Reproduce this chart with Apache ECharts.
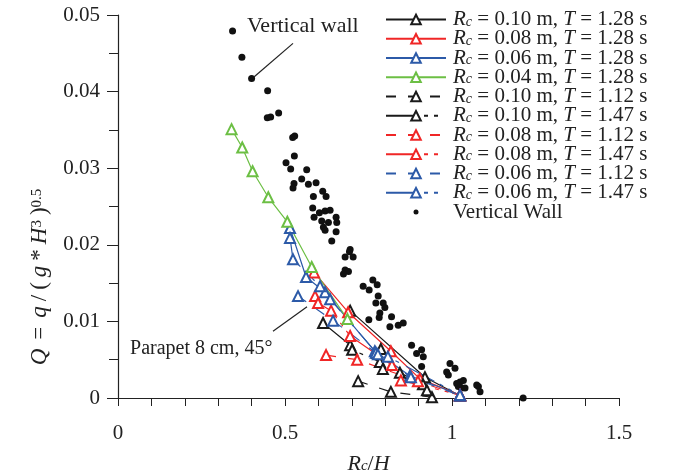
<!DOCTYPE html>
<html><head><meta charset="utf-8">
<script src="https://cdn.jsdelivr.net/npm/echarts@6/dist/echarts.min.js"></script>
<style>html,body{margin:0;padding:0;background:#fff}#c{width:674px;height:472px}</style>
</head><body><div id="c"></div>
<script>
// ---- tick labels ----
const xTickLabels = [0, 0.5, 1, 1.5];
const yTickLabels = [0, 0.01, 0.02, 0.03, 0.04, 0.05];

// ---- series data [Rc/H, Q] ----
const rc010_T128 = [[0.695,0.0114],[0.919,0.0027],[1.024,0.0003]];
const rc008_T128 = [[0.587,0.0164],[0.689,0.0112],[0.817,0.0061],[0.904,0.0025],[1.024,0.0004]];
const rc006_T128 = [[0.515,0.0222],[0.563,0.0158],[0.620,0.0138],[0.769,0.0061],[0.874,0.0029],[1.024,0.0004]];
const rc004_T128 = [[0.340,0.0351],[0.372,0.0327],[0.403,0.0296],[0.450,0.0262],[0.507,0.0230],[0.580,0.0171],[0.687,0.0103]];
const rc010_T112 = [[0.719,0.0022],[0.817,0.0008],[0.940,0.0001]];
const rc010_T147 = [[0.614,0.0098],[0.695,0.0069],[0.701,0.0063],[0.784,0.0047],[0.787,0.0064],[0.793,0.0038],[0.844,0.0033],[0.913,0.0018],[0.925,0.0010]];
const rc008_T112 = [[0.623,0.0056],[0.716,0.0050],[0.898,0.0022],[1.024,0.0003]];
const rc008_T147 = [[0.590,0.0133],[0.599,0.0124],[0.638,0.0114],[0.695,0.0081],[0.820,0.0043],[0.847,0.0023],[1.024,0.0004]];
const rc006_T112 = [[0.539,0.0133],[0.644,0.0101],[0.772,0.0059],[0.877,0.0027],[1.024,0.0003]];
const rc006_T147 = [[0.515,0.0209],[0.524,0.0181],[0.605,0.0146],[0.635,0.0129],[0.778,0.0057],[0.808,0.0054],[1.024,0.0004]];
const verticalWall = [
 [0.343,0.0479],[0.371,0.0445],[0.400,0.0417],[0.448,0.0401],[0.447,0.0366],[0.457,0.0367],[0.481,0.0372],
 [0.523,0.0340],[0.529,0.0342],[0.528,0.0316],[0.503,0.0307],[0.517,0.0299],[0.565,0.0298],[0.550,0.0286],
 [0.527,0.0280],[0.524,0.0274],[0.570,0.0279],[0.593,0.0281],[0.613,0.0270],[0.585,0.0263],[0.623,0.0263],
 [0.583,0.0248],[0.603,0.0242],[0.620,0.0244],[0.635,0.0245],[0.587,0.0236],[0.610,0.0231],[0.630,0.0229],
 [0.653,0.0236],[0.655,0.0229],[0.615,0.0223],[0.620,0.0219],[0.653,0.0217],[0.640,0.0205],[0.695,0.0194],
 [0.693,0.0191],[0.680,0.0184],[0.704,0.0184],[0.680,0.0167],[0.690,0.0165],[0.675,0.0162],[0.763,0.0154],
 [0.734,0.0146],[0.752,0.0141],[0.776,0.0148],[0.779,0.0133],[0.772,0.0124],[0.794,0.0124],[0.799,0.0118],
 [0.784,0.0111],[0.782,0.0105],[0.819,0.0106],[0.751,0.0102],[0.814,0.0093],[0.839,0.0095],[0.854,0.0098],
 [0.879,0.0069],[0.909,0.0063],[0.914,0.0054],[0.894,0.0058],[0.909,0.0041],[0.994,0.0045],[1.009,0.0039],
 [0.984,0.0034],[0.989,0.0030],[1.024,0.0021],[1.034,0.0023],[1.019,0.0015],[1.029,0.0013],[1.039,0.0013],
 [1.079,0.0015],[1.084,0.0008],[1.014,0.0019],[1.074,0.0017],[1.213,0.0000]
];
const seriesNames = [
 'Rc = 0.10 m, T = 1.28 s','Rc = 0.08 m, T = 1.28 s','Rc = 0.06 m, T = 1.28 s','Rc = 0.04 m, T = 1.28 s',
 'Rc = 0.10 m, T = 1.12 s','Rc = 0.10 m, T = 1.47 s','Rc = 0.08 m, T = 1.12 s','Rc = 0.08 m, T = 1.47 s',
 'Rc = 0.06 m, T = 1.12 s','Rc = 0.06 m, T = 1.47 s','Vertical Wall'
];

const BLACK='#1a1a1a', RED='#f02626', BLUE='#2c5aa8', GREEN='#6cbf44';
const SOLID='solid', DASH=[10,12], LDASH=[32,6,4,6,4,8];
const lineDefs = [
 [rc010_T128, BLACK, SOLID],[rc008_T128, RED, SOLID],[rc006_T128, BLUE, SOLID],[rc004_T128, GREEN, SOLID],
 [rc010_T112, BLACK, DASH],[rc010_T147, BLACK, LDASH],[rc008_T112, RED, DASH],[rc008_T147, RED, LDASH],
 [rc006_T112, BLUE, DASH],[rc006_T147, BLUE, LDASH]
];

const FONT = 'Liberation Serif, Times New Roman, serif';
const rich = {
  i: {fontStyle:'italic', fontFamily:FONT, fontSize:21, lineHeight:19, color:'#222'},
  s: {fontStyle:'italic', fontFamily:FONT, fontSize:14, lineHeight:5, verticalAlign:'bottom', color:'#222'},
  n: {fontFamily:FONT, fontSize:21, lineHeight:19, color:'#222'}
};
const richT = {
  i: {fontStyle:'italic', fontFamily:FONT, fontSize:22, lineHeight:20, color:'#222'},
  s: {fontStyle:'italic', fontFamily:FONT, fontSize:15, lineHeight:5, verticalAlign:'bottom', color:'#222'},
  n: {fontFamily:FONT, fontSize:22, lineHeight:20, color:'#222'}
};

const series = lineDefs.map((d, k) => ({
  name: seriesNames[k], type:'line', data:d[0], symbol:'emptyTriangle', symbolSize:10,
  itemStyle:{color:d[1], borderColor:d[1], borderWidth:1.6},
  lineStyle:{color:d[1], width:1.2, type:d[2]}, z: 3
}));
series.push({
  name: seriesNames[10], type:'scatter', data: verticalWall, symbol:'circle', symbolSize:7,
  itemStyle:{color:'#111', opacity:1}, z: 2
});

const chart = echarts.init(document.getElementById('c'), null, {renderer:'canvas'});
chart.setOption({
  animation:false,
  backgroundColor:'#fff',
  grid:{left:118, right:55, top:15, bottom:74, containLabel:false, outerBoundsMode:'none'},
  legend:{
    orient:'vertical', left:380, top:4, itemWidth:60, itemHeight:12, itemGap:-1.75,
    data: seriesNames.map((n,k)=> k===10 ? {name:n, icon:'path://M0 0M60 12M27.5 6a2.5 2.5 0 1 0 5 0a2.5 2.5 0 1 0 -5 0Z'} : {name:n}),
    formatter: n => n === 'Vertical Wall' ? '{n|Vertical Wall}' :
      n.replace(/Rc = (.*), T = (.*)/, '{i|R}{s|c}{n| = $1, }{i|T}{n| = $2}'),
    textStyle:{rich: rich, padding:[0,0,0,2]}
  },
  xAxis:{
    type:'value', min:0, max:1.5, interval:0.5,
    axisLine:{lineStyle:{color:'#222', width:1.2}},
    axisTick:{show:true, length:8, lineStyle:{color:'#222'}},
    minorTick:{show:true, splitNumber:5, length:8, lineStyle:{color:'#222'}},
    splitLine:{show:false},
    axisLabel:{margin:25, fontFamily:FONT, fontSize:21, color:'#222',
      formatter: v => { const m = xTickLabels.find(t => Math.abs(t - v) < 1e-9); return m === undefined ? '' : String(m); }},
    name:'{i|R}{s|c}{n|/}{i|H}', nameLocation:'middle', nameGap:56,
    nameTextStyle:{rich: richT}
  },
  yAxis:{
    type:'value', min:0, max:0.05, interval:0.01,
    axisLine:{show:true, lineStyle:{color:'#222', width:1.2}},
    axisTick:{show:true, length:11, lineStyle:{color:'#222'}},
    minorTick:{show:true, splitNumber:2, length:9, lineStyle:{color:'#222'}},
    splitLine:{show:false},
    axisLabel:{margin:18, fontFamily:FONT, fontSize:21, color:'#222',
      formatter: v => { const m = yTickLabels.find(t => Math.abs(t - v) < 1e-9); return m === undefined ? '' : String(m); }}
  },
  series: series
});

// annotations (positions given in data coordinates)
const P = p => chart.convertToPixel({gridIndex:0}, p);
const wallTxt = P([0.386, 0.0486]), wallA = P([0.524,0.0463]), wallB = P([0.407,0.0419]);
const parTxt = P([0.036, 0.0064]), parA = P([0.464,0.0087]), parB = P([0.566,0.0119]);
chart.setOption({
  graphic:[
    {type:'text', x:wallTxt[0], y:wallTxt[1], style:{text:'Vertical wall', font:'22px '+FONT, fill:'#222', align:'left', verticalAlign:'middle'}, z:10},
    {type:'line', shape:{x1:wallA[0], y1:wallA[1], x2:wallB[0], y2:wallB[1]}, style:{stroke:'#222', lineWidth:1.2}, z:10},
    {type:'text', x:parTxt[0], y:parTxt[1], style:{text:'Parapet 8 cm, 45°', font:'20px '+FONT, fill:'#222', align:'left', verticalAlign:'middle'}, z:10},
    {type:'line', shape:{x1:parA[0], y1:parA[1], x2:parB[0], y2:parB[1]}, style:{stroke:'#222', lineWidth:1.2}, z:10},
    {type:'text', x:40, y:277, rotation:Math.PI/2,
      style:{text:'{i|Q}{w| }{n|=}{w| }{i|q}{v| }{n|/}{v| }{n|(}{v| }{i|g}{v| }{n|*}{v| }{i|H}{p|3}{v| }{n|)}{p|0.5}', align:'center', verticalAlign:'middle',
        rich:{
          i:{fontStyle:'italic', fontFamily:FONT, fontSize:23, lineHeight:21, fill:'#222'},
          n:{fontFamily:FONT, fontSize:23, lineHeight:21, fill:'#222'},
          w:{fontFamily:FONT, fontSize:23, lineHeight:21, width:9},
          v:{fontFamily:FONT, fontSize:23, lineHeight:21, width:5},
          p:{fontFamily:FONT, fontSize:15, lineHeight:11, verticalAlign:'top', fill:'#222'}
        }}, z:10}
  ]
});
</script></body></html>
